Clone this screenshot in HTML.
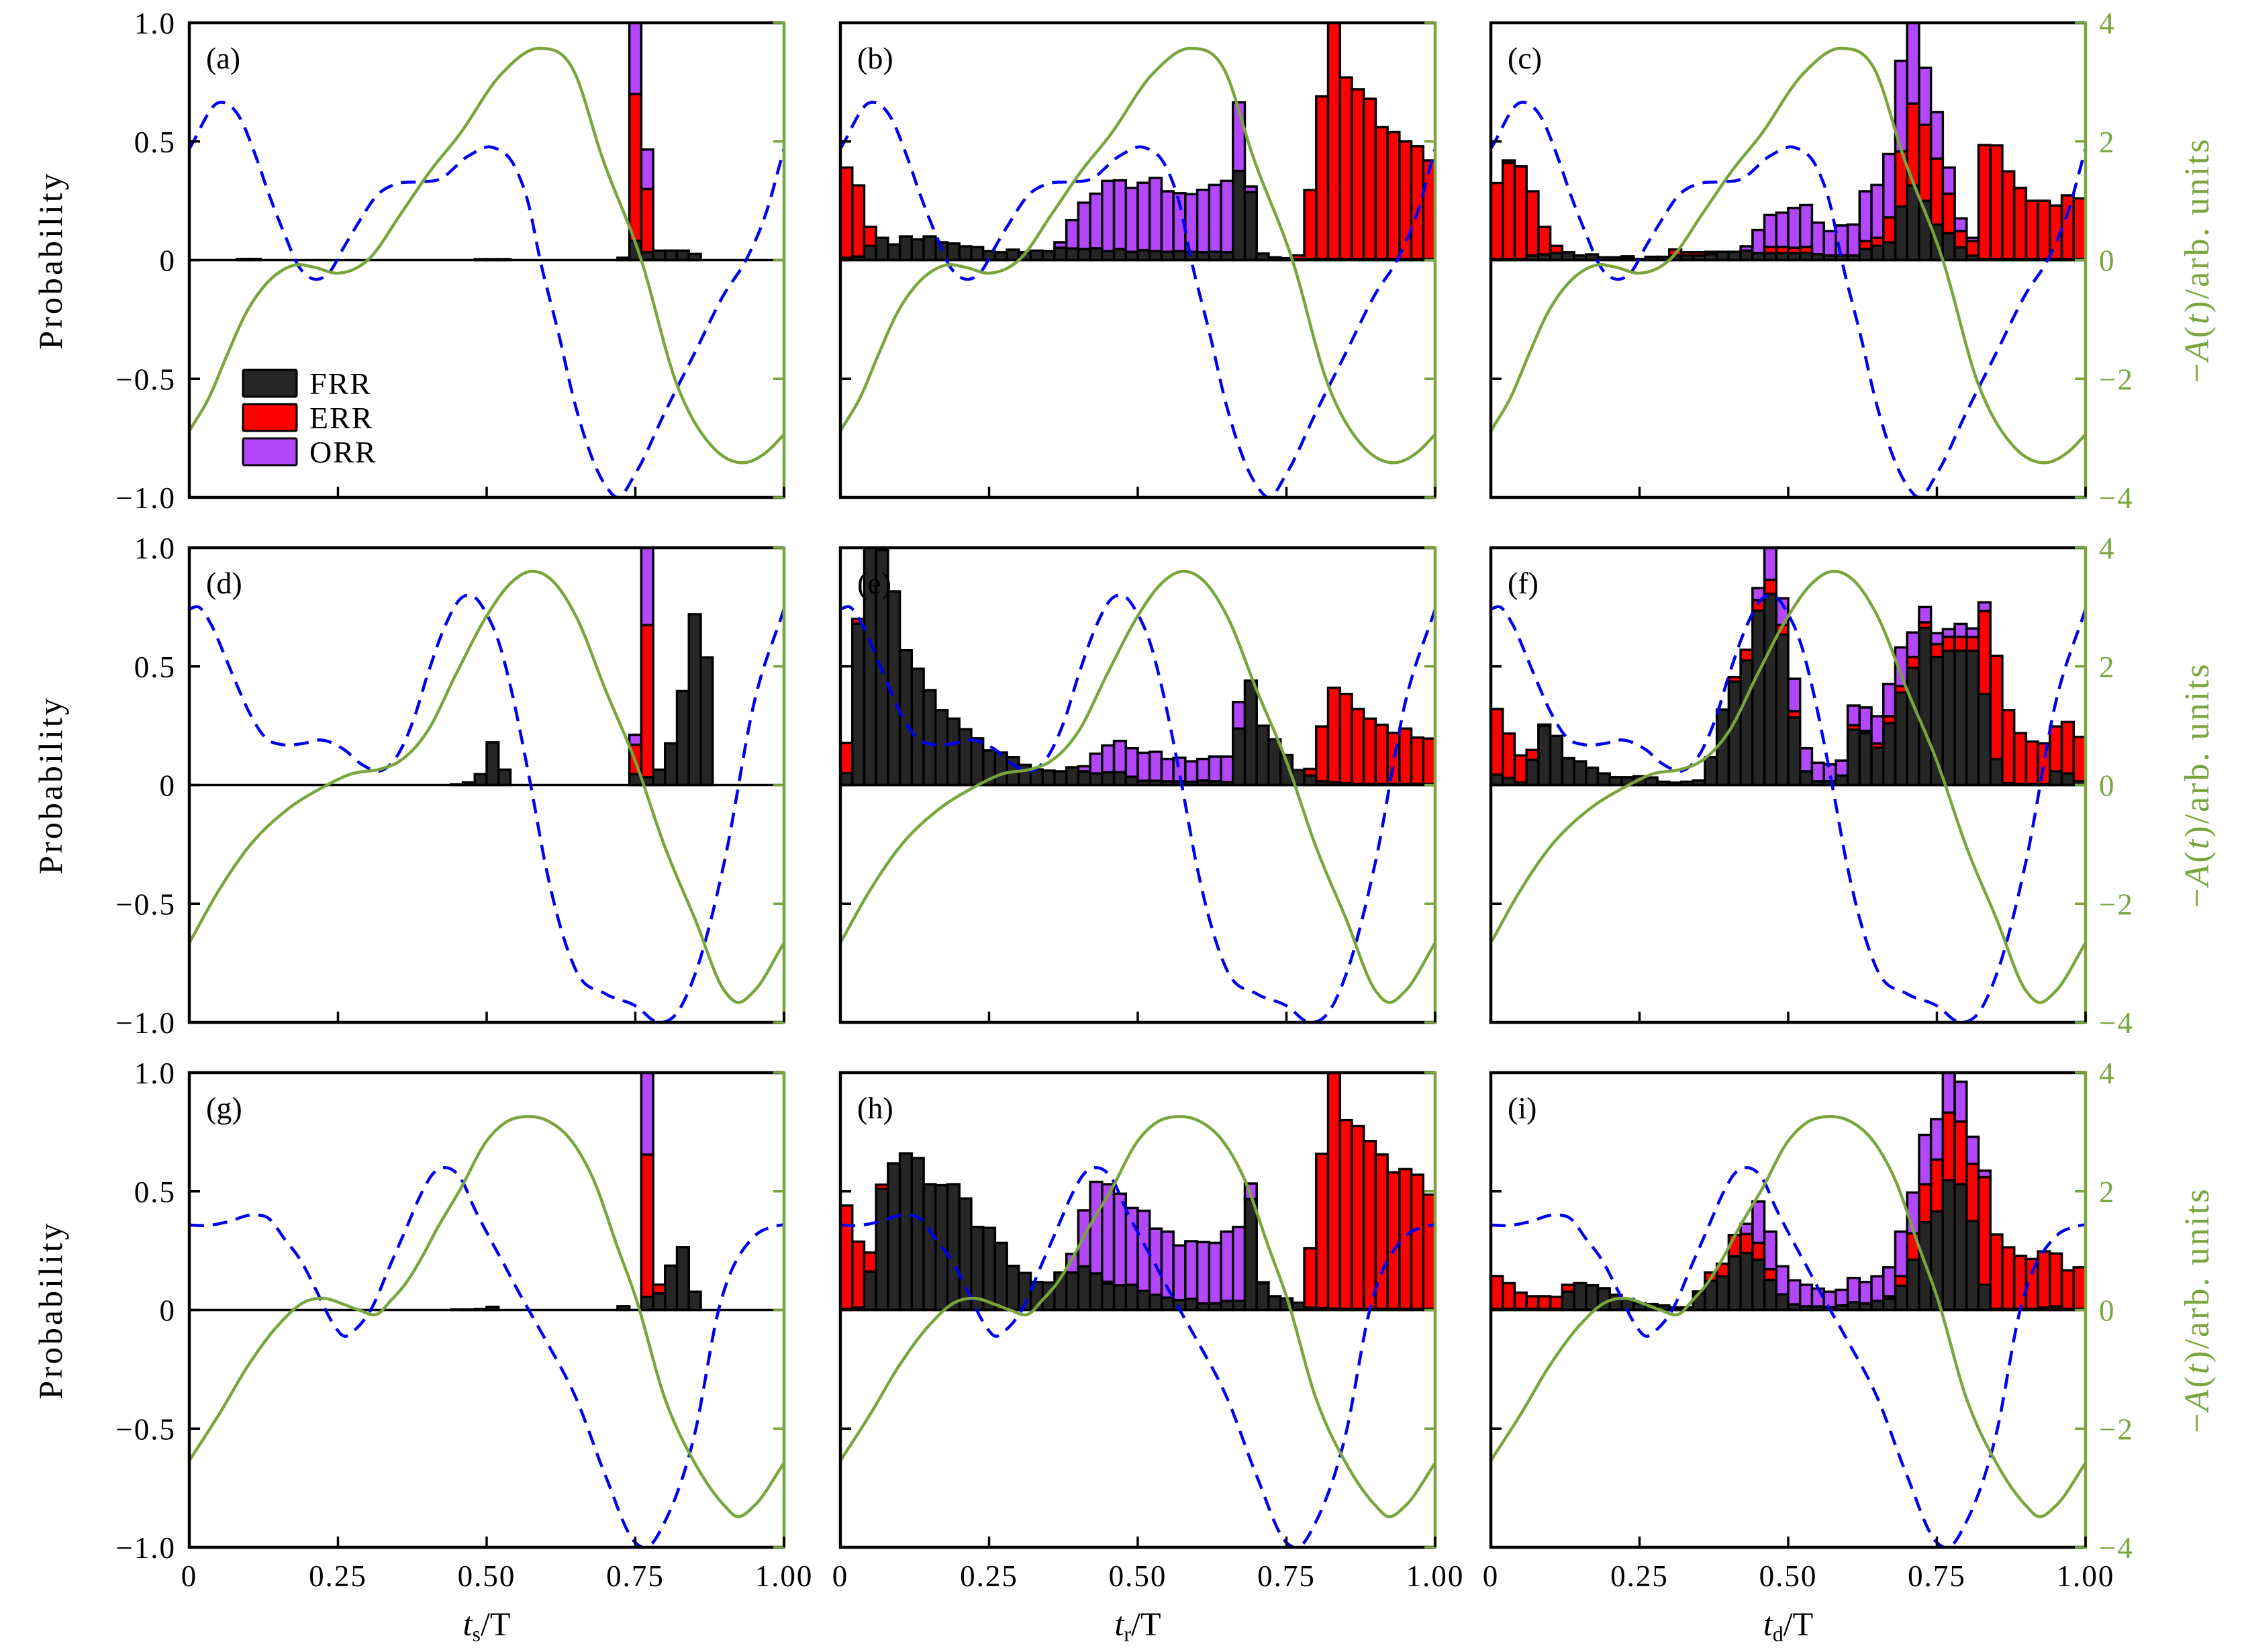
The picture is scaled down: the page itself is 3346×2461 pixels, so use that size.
<!DOCTYPE html>
<html><head><meta charset="utf-8">
<style>
html,body{margin:0;padding:0;background:#fff;}
svg{display:block;font-family:"Liberation Serif",serif;}
</style></head>
<body>
<svg id="chart" xmlns="http://www.w3.org/2000/svg" width="3346" height="2461" viewBox="0 0 3346 2461"><defs id="defs"></defs></svg>
<script>
// ---------- bar data (50 bins each, width 0.02) ----------
const frrA=[0,0,0,0,.005,.005,0,0,0,0, 0,0,0,0,0,0,0,0,0,0, 0,0,0,0,.004,.004,.004,0,0,0, 0,0,0,0,0,0,.01,.082,.033,.04, .04,.04,.026,0,0,0,0,0,0,0];
const errA=[0,0,0,0,0,0,0,0,0,0, 0,0,0,0,0,0,0,0,0,0, 0,0,0,0,0,0,0,0,0,0, 0,0,0,0,0,0,0,.618,.267,0, 0,0,0,0,0,0,0,0,0,0];
const orrA=[0,0,0,0,0,0,0,0,0,0, 0,0,0,0,0,0,0,0,0,0, 0,0,0,0,0,0,0,0,0,0, 0,0,0,0,0,0,0,.6,.166,0, 0,0,0,0,0,0,0,0,0,0];

const frrB=[.01,.015,.06,.094,.066,.1,.087,.10,.075,.07, .058,.055,.038,.033,.044,.033,.04,.038,.052,.049, .047,.05,.038,.047,.035,.042,.038,.035,.038,.035, .033,.035,.033,.376,.287,.028,.012,.008,.005,.005, .005,.005,.005,.005,.005,.005,.005,.005,.005,.005];
const errB=[.38,.30,.08,0,0,0,0,0,0,0, 0,0,0,0,0,0,0,0,0,0, 0,0,0,0,0,0,0,0,0,0, 0,0,0,0,0,0,0,0,.015,.29, .685,1.1,.765,.715,.675,.555,.535,.495,.475,.415];
const orrB=[0,0,0,0,0,0,0,0,0,0, 0,0,0,0,0,0,0,0,.023,.12, .195,.23,.296,.289,.269,.284,.308,.255,.244,.243, .263,.282,.301,.289,.023,0,0,0,0,0, 0,0,0,0,0,0,0,0,0,0];

const frrC=[.005,.005,.005,.02,.024,.03,.033,.02,.024,.012, .012,.008,.005,.014,.014,.02,.02,.02,.025,.035, .035,.04,.03,.03,.03,.03,.03,.025,.02,.02, .02,.047,.06,.075,.226,.315,.25,.15,.113,.054, .019,.005,.005,.005,.005,.005,.005,.005,.005,.005];
const errC=[.32,.405,.39,.27,.116,.03,0,0,0,0, 0,.008,0,0,0,.025,.013,.013,.01,0, 0,0,0,.026,.026,.022,.026,0,0,0, 0,.033,.034,.105,.232,.345,.32,.278,.167,.068, .061,.48,.478,.369,.299,.245,.245,.225,.268,.255];
const orrC=[0,.01,0,0,0,0,0,0,0,0, 0,0,0,0,0,0,0,0,0,0, 0,.018,.097,.134,.144,.168,.176,.133,.102,.126, .13,.21,.223,.267,.382,.45,.24,.196,.11,.054, .014,0,0,0,0,0,0,0,0,0];

const frrD=[0,0,0,0,0,0,0,0,0,0, 0,0,0,0,0,0,0,0,0,0, 0,0,.003,.011,.046,.18,.065,0,0,0, 0,0,0,0,0,0,0,.046,.033,.065, .176,.396,.72,.538,0,0,0,0,0,0];
const errD=[0,0,0,0,0,0,0,0,0,0, 0,0,0,0,0,0,0,0,0,0, 0,0,0,0,0,0,0,0,0,0, 0,0,0,0,0,0,0,.124,.641,0, 0,0,0,0,0,0,0,0,0,0];
const orrD=[0,0,0,0,0,0,0,0,0,0, 0,0,0,0,0,0,0,0,0,0, 0,0,0,0,0,0,0,0,0,0, 0,0,0,0,0,0,0,.042,.5,0, 0,0,0,0,0,0,0,0,0,0];

const frrE=[.05,.68,1.05,.99,.816,.568,.49,.40,.316,.28, .235,.197,.146,.137,.118,.085,.066,.061,.058,.075, .058,.049,.054,.054,.035,.018,.018,.016,.016,.014, .019,.016,.012,.238,.44,.25,.193,.127,.063,.04, .016,.012,.008,.005,.005,.005,.005,.005,.005,.005];
const errE=[.128,.02,0,0,0,0,0,0,0,0, 0,0,0,0,0,0,0,0,0,0, 0,0,0,0,0,0,0,0,0,0, 0,0,0,0,0,0,0,0,0,.028, .231,.398,.376,.315,.275,.249,.215,.233,.195,.191];
const orrE=[0,0,0,0,0,0,0,0,0,0, 0,0,0,0,0,0,0,0,0,0, .021,.083,.113,.132,.12,.118,.122,.094,.099,.086, .091,.104,.108,.112,0,0,0,0,0,0, 0,0,0,0,0,0,0,0,0,0];

const frrF=[.044,.03,.011,.106,.25,.207,.113,.1,.073,.049, .033,.033,.037,.032,.014,.01,.014,.019,.118,.318, .436,.525,.735,.806,.634,.285,.058,.016,.016,.04, .233,.22,.158,.26,.39,.494,.662,.54,.566,.566, .566,.384,.11,.008,.005,.005,.005,.058,.049,.016];
const errF=[.276,.187,.114,.042,.005,0,0,0,0,0, 0,0,0,0,0,0,0,0,0,0, .019,.045,.045,.059,.041,.026,0,0,0,0, .019,.008,.017,.03,.027,.046,.024,.054,.059,.059, .058,.349,.434,.308,.214,.178,.171,.189,.217,.187];
const orrF=[0,0,0,0,0,0,0,0,0,0, 0,0,0,0,0,0,0,0,0,0, 0,0,.05,.2,.112,.137,.097,.078,.071,.063, .083,.099,.115,.136,.163,.103,.064,.046,.032,.054, .036,.037,0,0,0,0,0,0,0,0];

const frrG=[0,0,0,0,0,0,0,0,0,0, 0,0,0,0,0,0,0,0,0,0, 0,0,.002,.002,.004,.013,0,0,0,0, 0,0,0,0,0,0,.016,0,.055,.07, .187,.265,.077,0,0,0,0,0,0,0];
const errG=[0,0,0,0,0,0,0,0,0,0, 0,0,0,0,0,0,0,0,0,0, 0,0,0,0,0,0,0,0,0,0, 0,0,0,0,0,0,0,0,.6,.037, 0,0,0,0,0,0,0,0,0,0];
const orrG=[0,0,0,0,0,0,0,0,0,0, 0,0,0,0,0,0,0,0,0,0, 0,0,0,0,0,0,0,0,0,0, 0,0,0,0,0,0,0,0,.5,0, 0,0,0,0,0,0,0,0,0,0];

const frrH=[.005,.01,.162,.51,.618,.66,.64,.53,.526,.53, .47,.35,.346,.283,.186,.156,.118,.116,.158,.158, .184,.154,.111,.104,.106,.08,.064,.052,.042,.047, .028,.028,.038,.038,.467,.113,.058,.049,.031,.01, .008,.006,.005,.005,.005,.005,.005,.005,.005,.005];
const errH=[.435,.278,.08,.018,0,0,0,0,0,0, 0,0,0,0,0,0,0,0,0,0, 0,0,.008,0,0,0,0,0,0,0, 0,0,0,0,0,0,0,0,0,.25, .65,1.1,.795,.77,.707,.65,.575,.589,.565,.481];
const orrH=[0,0,0,0,0,0,0,0,0,0, 0,0,0,0,0,0,0,0,0,.078, .236,.386,.411,.386,.324,.338,.279,.278,.23,.243, .258,.255,.292,.312,.066,.004,0,0,0,0, 0,0,0,0,0,0,0,0,0,0];

const frrI=[.005,.005,.005,.005,.005,.005,.077,.113,.104,.092, .064,.047,.028,.025,.019,.011,.011,.069,.123,.142, .226,.24,.212,.127,.066,.024,.016,.015,.012,.019, .033,.028,.038,.047,.102,.212,.37,.415,.547,.53, .375,.106,.005,.005,.005,.005,.01,.015,.005,.005];
const errI=[.138,.108,.068,.053,.053,.05,.029,0,0,0, 0,0,0,0,0,0,0,.009,.035,.053, .09,.08,.071,.045,0,0,0,0,0,0, 0,0,0,.011,.041,.111,.16,.219,.285,.264, .241,.454,.313,.259,.223,.21,.237,.223,.162,.175];
const orrI=[0,0,0,0,0,0,0,0,0,0, 0,0,0,0,0,0,0,0,0,0, 0,.043,.174,.158,.118,.101,.09,.075,.065,.066, .102,.09,.104,.122,.187,.172,.208,.17,.2,.168, .114,.027,0,0,0,0,0,0,0,0];

// ---------- curve data per row (blue: left axis; green: right axis) ----------
const blueT1=[0,0.05,0.085,0.11,0.135,0.16,0.185,0.21,0.236,0.26,0.286,0.316,0.347,0.387,0.42,0.47,0.51,0.55,0.57,0.59,0.62,0.65,0.7,0.72,0.75,0.8,0.85,0.9,0.936,0.97,1.0];
const blueV1=[0.47,0.664,0.60,0.45,0.27,0.11,-0.03,-0.08,-0.05,0.055,0.164,0.274,0.32,0.33,0.34,0.44,0.475,0.38,0.24,0.0,-0.3,-0.62,-0.95,-1.0,-0.9,-0.64,-0.39,-0.14,0.0,0.2,0.47];
const greenT1=[0,0.034,0.064,0.095,0.125,0.155,0.18,0.21,0.25,0.3,0.357,0.405,0.453,0.525,0.59,0.646,0.694,0.76,0.82,0.88,0.936,0.97,1.0];
const greenV1=[-2.88,-2.3,-1.59,-0.9,-0.45,-0.18,-0.08,-0.12,-0.22,0,0.8,1.5,2.1,3.14,3.57,3.2,1.74,0,-2.1,-3.15,-3.41,-3.24,-2.94];

const blueT2=[0,0.016,0.036,0.062,0.082,0.1,0.128,0.157,0.193,0.22,0.26,0.29,0.325,0.35,0.377,0.4,0.43,0.456,0.478,0.5,0.52,0.54,0.56,0.574,0.6,0.65,0.7,0.75,0.79,0.82,0.85,0.9,0.95,1.0];
const blueV2=[0.742,0.75,0.68,0.53,0.41,0.31,0.2,0.17,0.176,0.19,0.15,0.087,0.063,0.125,0.275,0.46,0.67,0.785,0.795,0.72,0.605,0.417,0.18,0,-0.35,-0.78,-0.88,-0.93,-1.0,-0.96,-0.8,-0.32,0.35,0.742];
const greenT2=[0,0.05,0.1,0.16,0.226,0.27,0.325,0.35,0.4,0.45,0.5,0.54,0.573,0.61,0.65,0.7,0.75,0.8,0.85,0.9,0.92,0.95,1.0];
const greenV2=[-2.66,-1.77,-1.04,-0.45,-0.03,0.18,0.28,0.38,0.9,1.9,2.85,3.4,3.6,3.45,2.85,1.6,0.4,-1.05,-2.25,-3.47,-3.66,-3.47,-2.66];

const blueT3=[0,0.03,0.062,0.108,0.134,0.16,0.187,0.213,0.24,0.26,0.28,0.305,0.338,0.364,0.39,0.41,0.43,0.456,0.48,0.508,0.534,0.554,0.573,0.6,0.65,0.7,0.75,0.77,0.8,0.85,0.89,0.95,0.98,1.0];
const blueV3=[0.358,0.356,0.37,0.4,0.385,0.3,0.21,0.085,-0.05,-0.11,-0.08,0,0.19,0.34,0.49,0.575,0.6,0.556,0.425,0.29,0.17,0.075,-0.01,-0.13,-0.37,-0.7,-0.98,-1.0,-0.89,-0.52,0,0.31,0.35,0.36];
const greenT3=[0,0.05,0.1,0.15,0.193,0.226,0.26,0.285,0.318,0.338,0.364,0.39,0.416,0.456,0.5,0.53,0.568,0.6,0.65,0.68,0.72,0.75,0.8,0.85,0.9,0.92,0.95,1.0];
const greenV3=[-2.54,-1.76,-0.92,-0.25,0.13,0.196,0.094,0,-0.06,0.15,0.45,0.87,1.36,2.04,2.85,3.15,3.26,3.2,2.75,2.19,1.06,0.23,-1.5,-2.58,-3.3,-3.48,-3.3,-2.58];

// ---------- tick labels ----------
const leftTicks=[-1,-0.5,0,0.5,1];
const leftTickLabels=["\u22121.0","\u22120.5","0","0.5","1.0"];
const rightTicks=[-4,-2,0,2,4];
const rightTickLabels=["\u22124","\u22122","0","2","4"];
const xTicks=[0,0.25,0.5,0.75,1];
const xTickLabels=["0","0.25","0.50","0.75","1.00"];
const panelLetters=["a","b","c","d","e","f","g","h","i"];
const xSubs=["s","r","d"];

// ---------- layout ----------
const NS="http://www.w3.org/2000/svg";
const colX=[282,1252,2221], rowY=[34,816,1598], PW=886, PH=707;
const GREEN="#79a53c", BLUE="#0000ee", BLACK="#262626", RED="#ff0000", PURPLE="#b347fb";
const svg=document.getElementById('chart');
const defs=document.getElementById('defs');
const bars=[[frrA,errA,orrA],[frrB,errB,orrB],[frrC,errC,orrC],[frrD,errD,orrD],[frrE,errE,orrE],[frrF,errF,orrF],[frrG,errG,orrG],[frrH,errH,orrH],[frrI,errI,orrI]];
const blues=[[blueT1,blueV1],[blueT2,blueV2],[blueT3,blueV3]];
const greens=[[greenT1,greenV1],[greenT2,greenV2],[greenT3,greenV3]];

function mk(tag,parent){const e=document.createElementNS(NS,tag);parent.appendChild(e);return e;}
function hermite(T,V,steps){
  const n=T.length, m=new Array(n);
  for(let i=0;i<n;i++){
    if(i===0) m[i]=(V[1]-V[0])/(T[1]-T[0]);
    else if(i===n-1) m[i]=(V[n-1]-V[n-2])/(T[n-1]-T[n-2]);
    else{
      const h0=T[i]-T[i-1], h1=T[i+1]-T[i];
      const d0=(V[i]-V[i-1])/h0, d1=(V[i+1]-V[i])/h1;
      m[i]=(d0*h1+d1*h0)/(h0+h1);
    }
  }
  const out=[];
  let k=0;
  for(let s=0;s<=steps;s++){
    const t=T[0]+(T[n-1]-T[0])*s/steps;
    while(k<n-2 && t>T[k+1]) k++;
    const h=T[k+1]-T[k], u=(t-T[k])/h;
    const h00=2*u*u*u-3*u*u+1,h10=u*u*u-2*u*u+u,h01=-2*u*u*u+3*u*u,h11=u*u*u-u*u;
    out.push([t,h00*V[k]+h10*h*m[k]+h01*V[k+1]+h11*h*m[k+1]]);
  }
  return out;
}
function line(parent,x1,y1,x2,y2,stroke,w){
  const l=mk('line',parent);
  l.setAttribute('x1',x1);l.setAttribute('y1',y1);l.setAttribute('x2',x2);l.setAttribute('y2',y2);
  l.setAttribute('stroke',stroke);l.setAttribute('stroke-width',w);
  return l;
}
function text(parent,x,y,str,size,anchor,fill){
  const t=mk('text',parent);
  t.setAttribute('x',x);t.setAttribute('y',y);t.setAttribute('font-size',size);
  t.setAttribute('text-anchor',anchor);t.setAttribute('fill',fill||'#000');
  t.textContent=str;return t;
}

for(let r=0;r<3;r++){
  for(let c=0;c<3;c++){
    const idx=r*3+c, x0=colX[c], y0=rowY[r];
    const xs=t=>x0+t*PW;
    const yL=v=>y0+PH/2-v*PH/2;
    const yR=a=>y0+PH/2-a*PH/8;
    const g=mk('g',svg);
    
    
    const cp=mk('clipPath',defs);cp.setAttribute('id','clip'+idx);
    const cr=mk('rect',cp);cr.setAttribute('x',x0);cr.setAttribute('y',y0);cr.setAttribute('width',PW);cr.setAttribute('height',PH);
    const plot=mk('g',g);plot.setAttribute('clip-path','url(#clip'+idx+')');
    
    
    const [F,E,O]=bars[idx];
    const n=F.length, bw=PW/n;
    const cols=[BLACK,RED,PURPLE], names=['frr','err','orr'];
    for(let i=0;i<n;i++){
      let base=0;
      const series=[F[i],E[i],O[i]];
      for(let s=0;s<3;s++){
        const v=series[s];
        if(v>0){
          const rc=mk('rect',plot);
          
          
          rc.setAttribute('x',xs(i/n));rc.setAttribute('width',bw);
          rc.setAttribute('y',yL(base+v));rc.setAttribute('height',yL(base)-yL(base+v));
          rc.setAttribute('fill',cols[s]);rc.setAttribute('stroke','#000');rc.setAttribute('stroke-width',3.5);
          base+=v;
        }
      }
    }
    const zl=line(plot,x0,yL(0),x0+PW,yL(0),'#000',3.5);
    
    
    const [bt,bv]=blues[r];
    const bp=mk('path',plot);
    
    
    bp.setAttribute('d','M'+hermite(bt,bv,600).map(p=>xs(p[0]).toFixed(1)+','+yL(p[1]).toFixed(1)).join(' L'));
    bp.setAttribute('fill','none');bp.setAttribute('stroke',BLUE);bp.setAttribute('stroke-width',4.5);bp.setAttribute('stroke-dasharray','22 13');
    const [gt,gv]=greens[r];
    const gp=mk('path',plot);
    
    
    gp.setAttribute('d','M'+hermite(gt,gv,600).map(p=>xs(p[0]).toFixed(1)+','+yR(p[1]).toFixed(1)).join(' L'));
    gp.setAttribute('fill','none');gp.setAttribute('stroke',GREEN);gp.setAttribute('stroke-width',4.5);
    const fg=mk('g',g);
    
    
    line(fg,x0-2,y0,x0+PW,y0,'#000',4.5);
    line(fg,x0-2,y0+PH,x0+PW,y0+PH,'#000',4.5);
    line(fg,x0,y0-2,x0,y0+PH+2,'#000',4.5);
    line(fg,x0+PW,y0-2,x0+PW,y0+PH+2,GREEN,4.5);
    leftTicks.forEach(v=>line(fg,x0,yL(v),x0+16,yL(v),'#000',3.5));
    rightTicks.forEach(v=>line(fg,x0+PW-16,yR(v),x0+PW,yR(v),GREEN,3.5));
    xTicks.forEach(t=>line(fg,xs(t),y0+PH,xs(t),y0+PH-16,'#000',3.5));
    const pl=text(g,x0+25,y0+68,'('+panelLetters[idx]+')',46,'start');
    
    
    if(c===0){
      leftTicks.forEach((v,k)=>{
        const tl=text(g,x0-20,yL(v)+16,leftTickLabels[k],45,'end');
        tl.setAttribute('letter-spacing','2');
        
        
      });
      const yl=text(g,0,0,'Probability',50,'middle');
      yl.setAttribute('letter-spacing','4');
      yl.setAttribute('transform','translate(92,'+(y0+PH/2)+') rotate(-90)');
      
      
    }
    if(c===2){
      rightTicks.forEach((v,k)=>{
        const tl=text(g,x0+PW+20,yR(v)+16,rightTickLabels[k],45,'start',GREEN);
        tl.setAttribute('letter-spacing','2');
        
        
      });
      const ry=mk('text',g);
      
      
      ry.setAttribute('font-size',52);ry.setAttribute('fill',GREEN);ry.setAttribute('text-anchor','middle');ry.setAttribute('letter-spacing','3');
      ry.setAttribute('transform','translate(3290,'+(y0+PH/2)+') rotate(-90)');
      ry.innerHTML='\u2212<tspan font-style="italic">A</tspan>(<tspan font-style="italic">t</tspan>)/arb. units';
    }
    if(r===2){
      xTicks.forEach((t,k)=>{
        const tl=text(g,xs(t),y0+PH+58,xTickLabels[k],45,'middle');
        tl.setAttribute('letter-spacing','2');
        
        
      });
      const xl=mk('text',g);
      
      
      xl.setAttribute('x',x0+PW/2);xl.setAttribute('y',2436);xl.setAttribute('font-size',50);xl.setAttribute('text-anchor','middle');
      xl.innerHTML='<tspan font-style="italic">t</tspan><tspan font-size="32" dy="9">'+xSubs[c]+'</tspan><tspan dy="-9">/T</tspan>';
    }
  }
}
const legNames=['FRR','ERR','ORR'], legCols=[BLACK,RED,PURPLE];
const lg=mk('g',svg);


legNames.forEach((nm,k)=>{
  const y=551+k*51;
  const b=mk('rect',lg);
  
  
  b.setAttribute('x',362);b.setAttribute('y',y);b.setAttribute('width',80);b.setAttribute('height',40);
  b.setAttribute('fill',legCols[k]);b.setAttribute('stroke','#000');b.setAttribute('stroke-width',3);b.setAttribute('rx',2);
  const t=text(lg,461,y+36,nm,46,'start');
  t.setAttribute('letter-spacing','2');
  
  
});
</script>
</body></html>
